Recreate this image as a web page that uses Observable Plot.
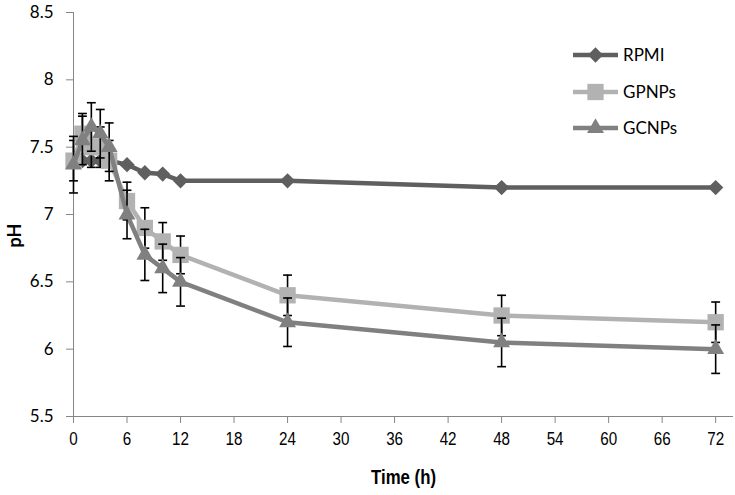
<!DOCTYPE html>
<html><head><meta charset="utf-8">
<script src="https://cdn.jsdelivr.net/npm/d3@7"></script>
<script src="https://cdn.jsdelivr.net/npm/@observablehq/plot@0.6"></script>
<style>
body{margin:0;background:#fff;}
#wrap{position:relative;width:735px;height:495px;}
#legend{position:absolute;left:0;top:0;}
</style></head><body><div id="wrap"></div>
<script>
// ---- data ----
const times    = [0, 1, 2, 3, 4, 6, 8, 10, 12, 24, 48, 72];
const rpmi     = [7.4, 7.4, 7.4, 7.4, 7.4, 7.37, 7.31, 7.3, 7.25, 7.25, 7.2, 7.2];
const gpnps    = [7.4, 7.6, 7.5, 7.5, 7.4, 7.1, 6.9, 6.8, 6.7, 6.4, 6.25, 6.2];
const gpnpsErr = [0.15, 0.15, 0.15, 0.15, 0.15, 0.14, 0.15, 0.14, 0.14, 0.15, 0.15, 0.15];
const gcnps    = [7.37, 7.55, 7.65, 7.6, 7.5, 7.0, 6.7, 6.6, 6.5, 6.2, 6.05, 6.0];
const gcnpsErr = [0.21, 0.18, 0.18, 0.18, 0.18, 0.18, 0.19, 0.18, 0.18, 0.18, 0.18, 0.18];
const seriesNames = ["RPMI", "GPNPs", "GCNPs"];
const xTicks = [0, 6, 12, 18, 24, 30, 36, 42, 48, 54, 60, 66, 72];
const yTicks = [5.5, 6, 6.5, 7, 7.5, 8, 8.5];

// ---- styles ----
const styles = {
  RPMI:  {color: "#5f5f5f", symbol: "diamond2", r: 6.9},
  GPNPs: {color: "#b2b2b2", symbol: "square", r: 9.2},
  GCNPs: {color: "#808080", symbol: "triangle", r: 6.3}
};
const valuesBy = {RPMI: rpmi, GPNPs: gpnps, GCNPs: gcnps};
const errBy = {RPMI: null, GPNPs: gpnpsErr, GCNPs: gcnpsErr};

const fontCal = "Lato, 'Open Sans', sans-serif";
const fontNarrow = "'Liberation Sans', Arial, sans-serif";

const capSymbol = {draw(ctx, size) { const w = Math.sqrt(size) / 2; ctx.moveTo(-w, 0); ctx.lineTo(w, 0); }};

const rowsOf = name => times.map((t, i) => ({series: name, t, v: valuesBy[name][i], e: errBy[name] ? errBy[name][i] : 0}));

const marks = [
  Plot.ruleY([5.5], {stroke: "#868686", strokeWidth: 1}),
  Plot.ruleX([0], {stroke: "#868686", strokeWidth: 1}),
  Plot.axisX({ticks: xTicks, tickSize: 7, tickPadding: 8, stroke: "#868686", fill: "black",
    fontFamily: fontNarrow, fontSize: 19, label: null, tickFormat: d => String(d)}),
  Plot.axisY({ticks: yTicks, tickSize: 7, tickPadding: 13, stroke: "#868686", fill: "black",
    fontFamily: fontCal, fontSize: 17, label: null, tickFormat: d => String(d)}),
  Plot.text(["Time (h)"], {frameAnchor: "bottom", dy: 67, fontFamily: fontNarrow, fontWeight: "bold", fontSize: 21, fill: "black", className: "narrow"}),
  Plot.text(["pH"], {frameAnchor: "left", dx: -58, dy: 33, rotate: -90, fontFamily: fontCal, fontWeight: "bold", fontSize: 18, fill: "black"})
];

for (const name of seriesNames) {
  const rows = rowsOf(name);
  const s = styles[name];
  marks.push(Plot.line(rows, {x: "t", y: "v", stroke: s.color, strokeWidth: 4.5, curve: "linear"}));
  if (errBy[name]) {
    marks.push(Plot.ruleX(rows, {x: "t", y1: d => d.v - d.e, y2: d => d.v + d.e, stroke: "black", strokeWidth: 1.6}));
    marks.push(Plot.dot(rows, {x: "t", y: d => d.v - d.e, symbol: capSymbol, r: 5, stroke: "black", strokeWidth: 1.6, fill: "none"}));
    marks.push(Plot.dot(rows, {x: "t", y: d => d.v + d.e, symbol: capSymbol, r: 5, stroke: "black", strokeWidth: 1.6, fill: "none"}));
  }
  marks.push(Plot.dot(rows, {x: "t", y: "v", symbol: s.symbol, r: s.r, fill: s.color, stroke: "none"}));
}

const chart = Plot.plot({
  width: 735, height: 495,
  marginLeft: 73, marginRight: 2, marginTop: 12, marginBottom: 79,
  x: {domain: [0, 74]},
  y: {domain: [5.5, 8.5]},
  style: {background: "white", overflow: "visible"},
  marks
});
const wrap = document.getElementById("wrap");
wrap.appendChild(chart);

// condense the x-axis labels and title (narrow font look)
d3.select(chart).selectAll('g[aria-label="x-axis tick label"] text, g.narrow text').each(function() {
  const tr = this.getAttribute("transform") || "";
  this.setAttribute("transform", tr + " scale(0.8,1)");
  const x = this.getAttribute("x");
  if (x != null) this.setAttribute("x", String(+x / 0.8));
});

// ---- legend overlay ----
const lg = d3.create("svg").attr("id", "legend").attr("width", 735).attr("height", 495);
const legendY = [55, 92, 128];
seriesNames.forEach((name, i) => {
  const s = styles[name];
  const y = legendY[i];
  const g = lg.append("g").attr("transform", `translate(0,${y})`);
  g.append("line").attr("x1", 573).attr("x2", 618).attr("y1", 0).attr("y2", 0)
    .attr("stroke", s.color).attr("stroke-width", 4.5);
  const symType = {diamond2: d3.symbolDiamond2, square: d3.symbolSquare, triangle: d3.symbolTriangle}[s.symbol];
  g.append("path").attr("transform", "translate(595.5,0)")
    .attr("d", d3.symbol(symType, Math.PI * s.r * s.r)()).attr("fill", s.color);
  g.append("text").attr("x", 623).attr("y", 0).attr("dy", "0.35em")
    .attr("font-family", fontCal).attr("font-size", 17).attr("fill", "black").text(name);
});
wrap.appendChild(lg.node());
</script></body></html>
